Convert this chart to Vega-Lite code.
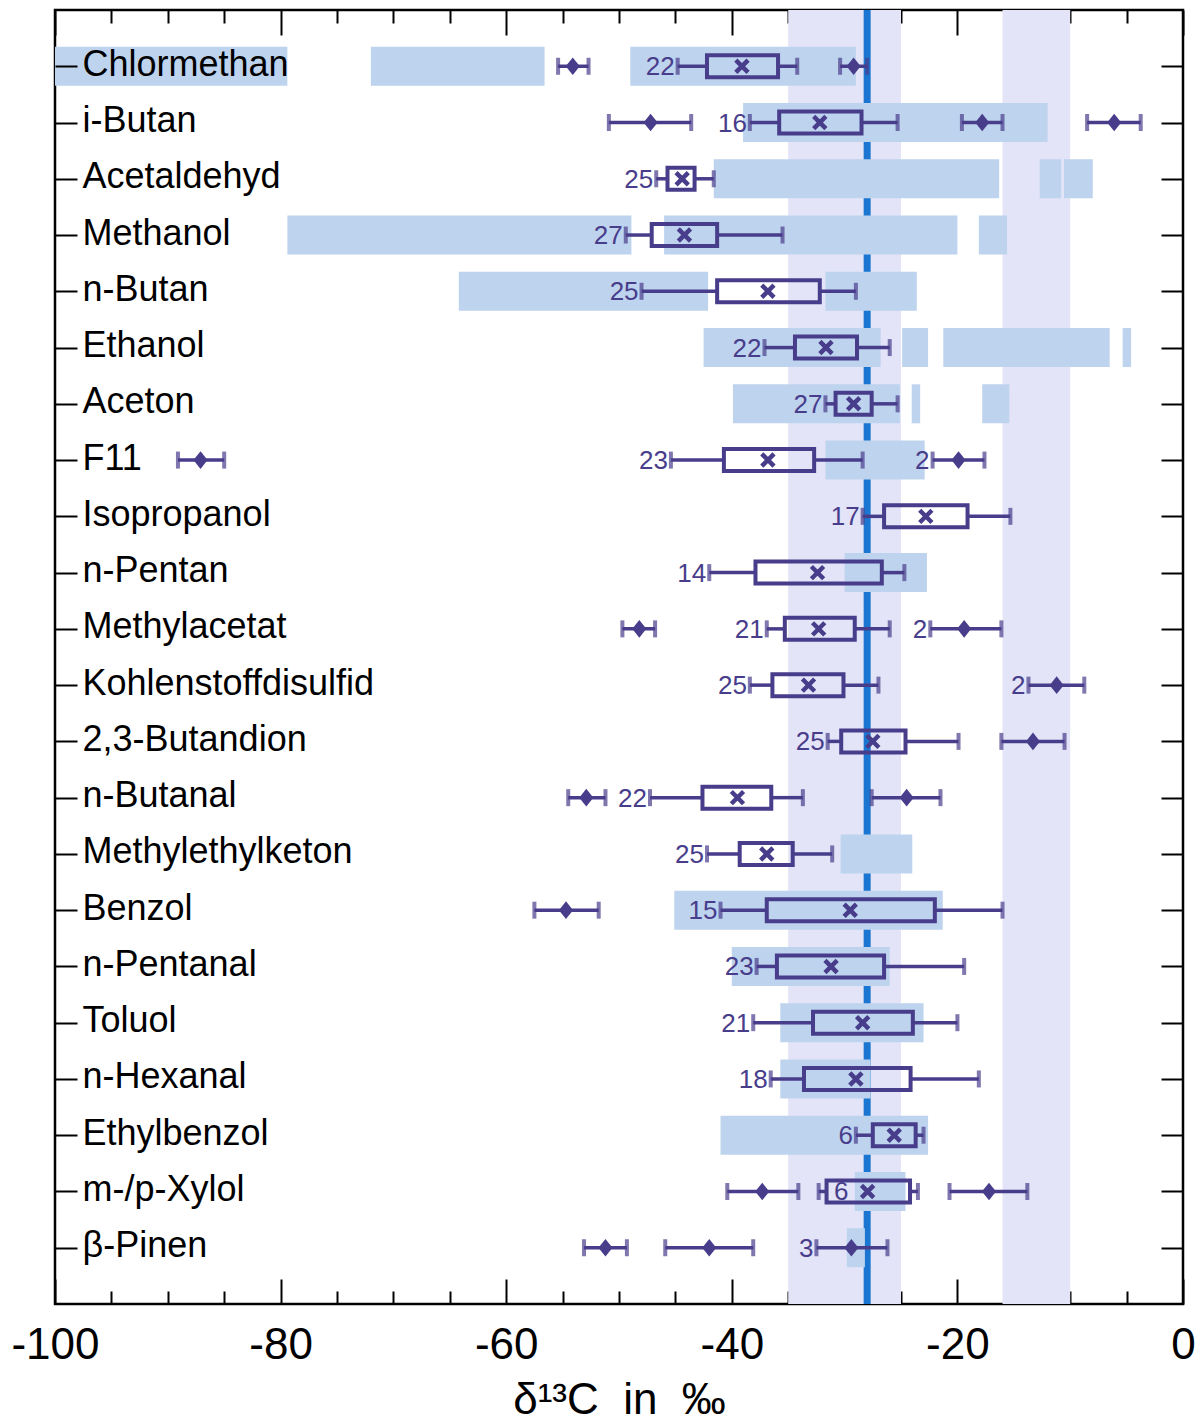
{
  "$schema": "https://vega.github.io/schema/vega-lite/v6.json",
  "width": 1128,
  "height": 1294,
  "autosize": {"type": "none"},
  "padding": {"left": 55, "top": 10, "right": 20, "bottom": 117},
  "config": {
    "view": {"stroke": "black", "strokeWidth": 2.5},
    "font": "Liberation Sans",
    "axis": {"grid": false, "domain": false, "tickColor": "black", "tickWidth": 2, "labelColor": "black", "titleColor": "black", "labelFont": "Liberation Sans", "titleFont": "Liberation Sans"}
  },
  "datasets": {
    "bands": [{"a": -35, "b": -25}, {"a": -16, "b": -10}],
    "ref": [{"v": -28}],
    "ranges": [
      {"c": "Chlormethan", "lo": -100, "hi": -79.4},
      {"c": "Chlormethan", "lo": -72.0, "hi": -56.6},
      {"c": "Chlormethan", "lo": -49.0, "hi": -29.0},
      {"c": "i-Butan", "lo": -39.0, "hi": -12.0},
      {"c": "Acetaldehyd", "lo": -41.6, "hi": -16.3},
      {"c": "Acetaldehyd", "lo": -12.7, "hi": -10.8},
      {"c": "Acetaldehyd", "lo": -10.55, "hi": -8.0},
      {"c": "Methanol", "lo": -79.4, "hi": -48.9},
      {"c": "Methanol", "lo": -46.0, "hi": -20.0},
      {"c": "Methanol", "lo": -18.1, "hi": -15.6},
      {"c": "n-Butan", "lo": -64.2, "hi": -42.1},
      {"c": "n-Butan", "lo": -31.7, "hi": -23.6},
      {"c": "Ethanol", "lo": -42.5, "hi": -26.8},
      {"c": "Ethanol", "lo": -24.9, "hi": -22.6},
      {"c": "Ethanol", "lo": -21.25, "hi": -6.5},
      {"c": "Ethanol", "lo": -5.35, "hi": -4.6},
      {"c": "Aceton", "lo": -39.9, "hi": -25.1},
      {"c": "Aceton", "lo": -24.05, "hi": -23.3},
      {"c": "Aceton", "lo": -17.8, "hi": -15.4},
      {"c": "F11", "lo": -31.7, "hi": -22.9},
      {"c": "n-Pentan", "lo": -30.0, "hi": -22.7},
      {"c": "Methylethylketon", "lo": -30.35, "hi": -24.0},
      {"c": "Benzol", "lo": -45.1, "hi": -21.3},
      {"c": "n-Pentanal", "lo": -40.0, "hi": -26.0},
      {"c": "Toluol", "lo": -35.7, "hi": -23.0},
      {"c": "n-Hexanal", "lo": -35.7, "hi": -27.7},
      {"c": "Ethylbenzol", "lo": -41.0, "hi": -22.6},
      {"c": "m-/p-Xylol", "lo": -29.1, "hi": -24.6},
      {"c": "β-Pinen", "lo": -29.8, "hi": -28.2}
    ],
    "boxes": [
      {"c": "Chlormethan", "n": 22, "wl": -44.8, "q1": -42.2, "m": -39.1, "q3": -35.9, "wh": -34.2, "nx": -44.8},
      {"c": "i-Butan", "n": 16, "wl": -38.4, "q1": -35.8, "m": -32.2, "q3": -28.5, "wh": -25.3, "nx": -38.4},
      {"c": "Acetaldehyd", "n": 25, "wl": -46.7, "q1": -45.7, "m": -44.4, "q3": -43.3, "wh": -41.6, "nx": -46.7},
      {"c": "Methanol", "n": 27, "wl": -49.4, "q1": -47.1, "m": -44.2, "q3": -41.3, "wh": -35.5, "nx": -49.4},
      {"c": "n-Butan", "n": 25, "wl": -48.0, "q1": -41.3, "m": -36.8, "q3": -32.2, "wh": -29.0, "nx": -48.0},
      {"c": "Ethanol", "n": 22, "wl": -37.1, "q1": -34.4, "m": -31.65, "q3": -28.9, "wh": -26.0, "nx": -37.1},
      {"c": "Aceton", "n": 27, "wl": -31.7, "q1": -30.8, "m": -29.2, "q3": -27.6, "wh": -25.3, "nx": -31.7},
      {"c": "F11", "n": 23, "wl": -45.4, "q1": -40.7, "m": -36.8, "q3": -32.7, "wh": -28.4, "nx": -45.4},
      {"c": "Isopropanol", "n": 17, "wl": -28.4, "q1": -26.5, "m": -22.8, "q3": -19.1, "wh": -15.3, "nx": -28.4},
      {"c": "n-Pentan", "n": 14, "wl": -42.0, "q1": -37.9, "m": -32.4, "q3": -26.7, "wh": -24.7, "nx": -42.0},
      {"c": "Methylacetat", "n": 21, "wl": -36.9, "q1": -35.3, "m": -32.3, "q3": -29.1, "wh": -26.0, "nx": -36.9},
      {"c": "Kohlenstoffdisulfid", "n": 25, "wl": -38.4, "q1": -36.4, "m": -33.2, "q3": -30.1, "wh": -27.0, "nx": -38.4},
      {"c": "2,3-Butandion", "n": 25, "wl": -31.5, "q1": -30.3, "m": -27.5, "q3": -24.6, "wh": -19.9, "nx": -31.5},
      {"c": "n-Butanal", "n": 22, "wl": -47.25, "q1": -42.6, "m": -39.5, "q3": -36.5, "wh": -33.7, "nx": -47.25},
      {"c": "Methylethylketon", "n": 25, "wl": -42.2, "q1": -39.3, "m": -36.9, "q3": -34.6, "wh": -31.1, "nx": -42.2},
      {"c": "Benzol", "n": 15, "wl": -41.0, "q1": -36.9, "m": -29.5, "q3": -22.0, "wh": -16.0, "nx": -41.0},
      {"c": "n-Pentanal", "n": 23, "wl": -37.8, "q1": -36.0, "m": -31.2, "q3": -26.5, "wh": -19.4, "nx": -37.8},
      {"c": "Toluol", "n": 21, "wl": -38.1, "q1": -32.8, "m": -28.4, "q3": -23.95, "wh": -20.0, "nx": -38.1},
      {"c": "n-Hexanal", "n": 18, "wl": -36.55, "q1": -33.6, "m": -29.0, "q3": -24.15, "wh": -18.1, "nx": -36.55},
      {"c": "Ethylbenzol", "n": 6, "wl": -29.0, "q1": -27.5, "m": -25.6, "q3": -23.7, "wh": -23.0, "nx": -29.0},
      {"c": "m-/p-Xylol", "n": 6, "wl": -32.3, "q1": -31.6, "m": -27.96, "q3": -24.2, "wh": -23.5, "nx": -29.4}
    ],
    "points": [
      {"c": "Chlormethan", "lo": -55.4, "v": -54.1, "hi": -52.7, "n": null},
      {"c": "Chlormethan", "lo": -30.4, "v": -29.2, "hi": -28.0, "n": null},
      {"c": "i-Butan", "lo": -50.9, "v": -47.2, "hi": -43.6, "n": null},
      {"c": "i-Butan", "lo": -19.6, "v": -17.8, "hi": -16.0, "n": null},
      {"c": "i-Butan", "lo": -8.5, "v": -6.1, "hi": -3.75, "n": null},
      {"c": "F11", "lo": -89.1, "v": -87.1, "hi": -85.0, "n": null},
      {"c": "F11", "lo": -22.2, "v": -19.9, "hi": -17.6, "n": 2},
      {"c": "Methylacetat", "lo": -49.7, "v": -48.2, "hi": -46.8, "n": null},
      {"c": "Methylacetat", "lo": -22.4, "v": -19.4, "hi": -16.1, "n": 2},
      {"c": "Kohlenstoffdisulfid", "lo": -13.7, "v": -11.2, "hi": -8.75, "n": 2},
      {"c": "2,3-Butandion", "lo": -16.1, "v": -13.3, "hi": -10.5, "n": null},
      {"c": "n-Butanal", "lo": -54.5, "v": -52.9, "hi": -51.2, "n": null},
      {"c": "n-Butanal", "lo": -27.6, "v": -24.5, "hi": -21.5, "n": null},
      {"c": "Benzol", "lo": -57.5, "v": -54.7, "hi": -51.8, "n": null},
      {"c": "m-/p-Xylol", "lo": -40.4, "v": -37.3, "hi": -34.1, "n": null},
      {"c": "m-/p-Xylol", "lo": -20.7, "v": -17.2, "hi": -13.8, "n": null},
      {"c": "β-Pinen", "lo": -53.1, "v": -51.2, "hi": -49.3, "n": null},
      {"c": "β-Pinen", "lo": -45.9, "v": -42.0, "hi": -38.1, "n": null},
      {"c": "β-Pinen", "lo": -32.5, "v": -29.4, "hi": -26.2, "n": 3}
    ]
  },
  "resolve": {"axis": {"x": "independent", "y": "independent"}},
  "layer": [
    {
      "data": {"name": "bands"},
      "mark": {"type": "rect", "color": "#e3e4f7"},
      "encoding": {
        "x": {"field": "a", "type": "quantitative", "scale": {"domain": [-100, 0], "nice": false, "zero": false},
          "axis": {"orient": "bottom", "values": [-100, -80, -60, -40, -20, 0], "tickSize": -25, "labelFontSize": 44, "labelPadding": 44, "labelFlush": false, "labelOverlap": false,
            "labelExpr": "datum.value < 0 ? '-' + abs(datum.value) : '' + datum.value",
            "title": "δ¹³C\u00a0\u00a0in\u00a0\u00a0‰", "titleFontSize": 44, "titleFontWeight": "normal", "titleBaseline": "alphabetic", "titleY": 109}},
        "x2": {"field": "b"}
      }
    },
    {
      "data": {"name": "ref"},
      "mark": {"type": "rule", "color": "#1a76d0", "strokeWidth": 7},
      "encoding": {
        "x": {"field": "v", "type": "quantitative", "scale": {"domain": [-100, 0], "nice": false, "zero": false},
          "axis": {"orient": "top", "values": [-100, -80, -60, -40, -20, 0], "tickSize": -25, "labels": false, "title": null}}
      }
    },
    {
      "data": {"name": "ranges"},
      "mark": {"type": "bar", "color": "#bed3ee", "size": 39},
      "encoding": {
        "y": {"field": "c", "type": "nominal", "scale": {"type": "point", "padding": 1, "domain": ["Chlormethan","i-Butan","Acetaldehyd","Methanol","n-Butan","Ethanol","Aceton","F11","Isopropanol","n-Pentan","Methylacetat","Kohlenstoffdisulfid","2,3-Butandion","n-Butanal","Methylethylketon","Benzol","n-Pentanal","Toluol","n-Hexanal","Ethylbenzol","m-/p-Xylol","β-Pinen"]},
          "axis": {"orient": "left", "zindex": 2, "tickSize": -22, "labelAlign": "left", "labelPadding": -5, "labelOffset": -2, "labelFontSize": 36, "labelLimit": 1000, "title": null}},
        "x": {"field": "lo", "type": "quantitative", "scale": {"domain": [-100, 0], "nice": false, "zero": false},
          "axis": {"orient": "bottom", "values": [-95, -90, -85, -75, -70, -65, -55, -50, -45, -35, -30, -25, -15, -10, -5], "tickSize": -13, "labels": false, "title": null}},
        "x2": {"field": "hi"}
      }
    },
    {
      "data": {"name": "boxes"},
      "mark": {"type": "rule", "color": "#483d8b", "strokeWidth": 3.5},
      "encoding": {
        "y": {"field": "c", "type": "nominal", "axis": {"orient": "right", "tickSize": -22, "labels": false, "title": null}},
        "x": {"field": "wl", "type": "quantitative", "scale": {"domain": [-100, 0], "nice": false, "zero": false},
          "axis": {"orient": "top", "values": [-95, -90, -85, -75, -70, -65, -55, -50, -45, -35, -30, -25, -15, -10, -5], "tickSize": -13, "labels": false, "title": null}},
        "x2": {"field": "q1"}
      }
    },
    {
      "data": {"name": "boxes"},
      "mark": {"type": "rule", "color": "#483d8b", "strokeWidth": 3.5},
      "encoding": {
        "y": {"field": "c", "type": "nominal", "axis": null},
        "x": {"field": "q3", "type": "quantitative", "axis": null},
        "x2": {"field": "wh"}
      }
    },
    {
      "data": {"name": "boxes"},
      "mark": {"type": "bar", "size": 22, "fillOpacity": 0, "stroke": "#483d8b", "strokeWidth": 4},
      "encoding": {
        "y": {"field": "c", "type": "nominal", "axis": null},
        "x": {"field": "q1", "type": "quantitative", "axis": null},
        "x2": {"field": "q3"}
      }
    },
    {
      "data": {"name": "boxes"},
      "mark": {"type": "tick", "color": "#483d8b", "size": 17, "thickness": 4, "orient": "vertical"},
      "encoding": {
        "y": {"field": "c", "type": "nominal", "axis": null},
        "x": {"field": "wl", "type": "quantitative", "axis": null}
      }
    },
    {
      "data": {"name": "boxes"},
      "mark": {"type": "tick", "color": "#483d8b", "size": 17, "thickness": 4, "orient": "vertical"},
      "encoding": {
        "y": {"field": "c", "type": "nominal", "axis": null},
        "x": {"field": "wh", "type": "quantitative", "axis": null}
      }
    },
    {
      "data": {"name": "boxes"},
      "mark": {"type": "point", "shape": "M-1,-1L1,1M-1,1L1,-1", "filled": false, "stroke": "#483d8b", "strokeWidth": 4.5, "size": 150, "opacity": 1},
      "encoding": {
        "y": {"field": "c", "type": "nominal", "axis": null},
        "x": {"field": "m", "type": "quantitative", "axis": null}
      }
    },
    {
      "data": {"name": "boxes"},
      "mark": {"type": "text", "color": "#483d8b", "fontSize": 26, "align": "right", "baseline": "middle", "dx": -3, "dy": 1},
      "encoding": {
        "y": {"field": "c", "type": "nominal", "axis": null},
        "x": {"field": "nx", "type": "quantitative", "axis": null},
        "text": {"field": "n", "type": "nominal"}
      }
    },
    {
      "data": {"name": "points"},
      "mark": {"type": "rule", "color": "#483d8b", "strokeWidth": 3.5},
      "encoding": {
        "y": {"field": "c", "type": "nominal", "axis": null},
        "x": {"field": "lo", "type": "quantitative", "axis": null},
        "x2": {"field": "hi"}
      }
    },
    {
      "data": {"name": "points"},
      "mark": {"type": "tick", "color": "#483d8b", "size": 17, "thickness": 4, "orient": "vertical"},
      "encoding": {
        "y": {"field": "c", "type": "nominal", "axis": null},
        "x": {"field": "lo", "type": "quantitative", "axis": null}
      }
    },
    {
      "data": {"name": "points"},
      "mark": {"type": "tick", "color": "#483d8b", "size": 17, "thickness": 4, "orient": "vertical"},
      "encoding": {
        "y": {"field": "c", "type": "nominal", "axis": null},
        "x": {"field": "hi", "type": "quantitative", "axis": null}
      }
    },
    {
      "data": {"name": "points"},
      "mark": {"type": "point", "shape": "M0,-1L0.8,0L0,1L-0.8,0Z", "filled": true, "color": "#483d8b", "size": 310, "opacity": 1},
      "encoding": {
        "y": {"field": "c", "type": "nominal", "axis": null},
        "x": {"field": "v", "type": "quantitative", "axis": null}
      }
    },
    {
      "data": {"name": "points"},
      "transform": [{"filter": "datum.n != null"}],
      "mark": {"type": "text", "color": "#483d8b", "fontSize": 26, "align": "right", "baseline": "middle", "dx": -3, "dy": 1},
      "encoding": {
        "y": {"field": "c", "type": "nominal", "axis": null},
        "x": {"field": "lo", "type": "quantitative", "axis": null},
        "text": {"field": "n", "type": "nominal"}
      }
    }
  ]
}
